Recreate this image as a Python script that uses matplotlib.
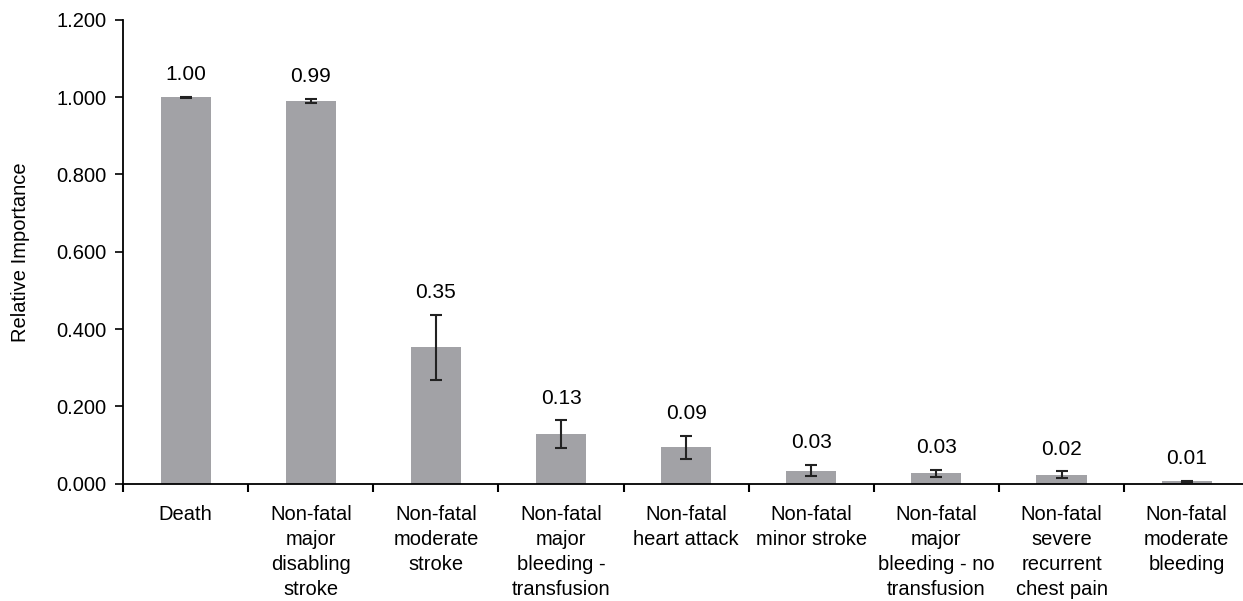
import numpy as np
import matplotlib.pyplot as plt

# data
categories = [
    "Death",
    "Non-fatal\nmajor\ndisabling\nstroke",
    "Non-fatal\nmoderate\nstroke",
    "Non-fatal\nmajor\nbleeding -\ntransfusion",
    "Non-fatal\nheart attack",
    "Non-fatal\nminor stroke",
    "Non-fatal\nmajor\nbleeding - no\ntransfusion",
    "Non-fatal\nsevere\nrecurrent\nchest pain",
    "Non-fatal\nmoderate\nbleeding",
]
values = [1.00, 0.990, 0.353, 0.128, 0.094, 0.034, 0.027, 0.024, 0.006]
err_low = [0.001, 0.006, 0.085, 0.036, 0.029, 0.015, 0.009, 0.008, 0.002]
err_high = [0.001, 0.006, 0.084, 0.036, 0.029, 0.014, 0.009, 0.008, 0.002]
labels = ["1.00", "0.99", "0.35", "0.13", "0.09", "0.03", "0.03", "0.02", "0.01"]

plt.rcParams["font.family"] = ["Liberation Sans", "DejaVu Sans"]

fig = plt.figure(figsize=(12.43, 6.01), dpi=100)
ax = fig.add_axes([0.099, 0.195, 0.906, 0.772])

x = np.arange(len(categories)) + 0.5
ax.bar(x, values, width=0.4, color="#a2a2a6", zorder=2)
ax.errorbar(x, values, yerr=[err_low, err_high], fmt="none", ecolor="#222222",
            elinewidth=1.5, capsize=4, capthick=1.5, zorder=3)

for xi, v, e, lab in zip(x, values, err_high, labels):
    ax.text(xi, v + e + 0.033, lab, ha="center", va="bottom", fontsize=15)

ax.set_xlim(0, len(categories))
ax.set_ylim(0, 1.2)
ax.set_yticks(np.arange(0, 1.21, 0.2))
ax.set_yticklabels([f"{t:.3f}" for t in np.arange(0, 1.21, 0.2)], fontsize=14.5)
ax.set_ylabel("Relative Importance", fontsize=14.5, labelpad=19)

ax.set_xticks(np.arange(len(categories) + 1))
ax.set_xticklabels([])
ax.set_xticks(x, minor=True)
ax.set_xticklabels(categories, minor=True, fontsize=14.5, va="top", linespacing=1.4)
ax.tick_params(axis="x", which="minor", length=0, pad=15)
ax.tick_params(axis="x", which="major", length=6, width=1.5, direction="out")
ax.tick_params(axis="y", length=6, width=1.2, direction="out", pad=6)

for s in ["top", "right"]:
    ax.spines[s].set_visible(False)
for s in ["left", "bottom"]:
    ax.spines[s].set_linewidth(1.3)

fig.savefig("out.png", dpi=100)
